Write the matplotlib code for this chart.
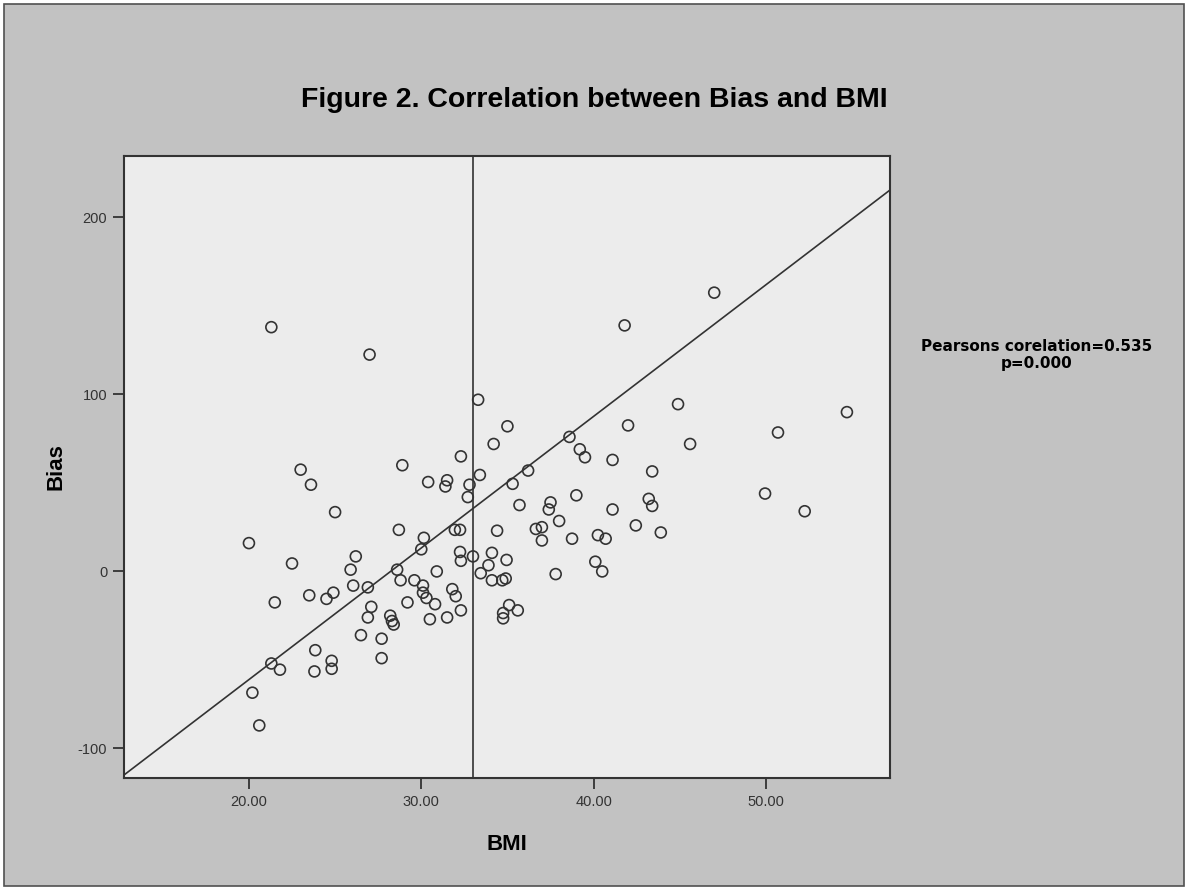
import matplotlib
matplotlib.use('Agg')
import matplotlib.pyplot as plt
from matplotlib.patches import Rectangle
import numpy as np

plt.rcParams['axes.unicode_minus'] = False

# values
bmi = [21.3, 27.0, 33.3, 35.0, 34.2, 32.3, 28.9, 23.0, 47.0, 41.8,
       44.9, 54.7, 42.0, 50.7, 38.6, 45.6, 39.2, 39.5, 41.1, 36.2,
       43.4, 23.6, 25.0, 30.4, 31.5, 31.4, 33.4, 32.8, 32.7, 28.7,
       30.15, 30.0, 31.95, 32.25, 34.4, 20.0, 22.5, 26.2, 25.9, 26.05,
       26.9, 28.6, 28.8, 29.6, 30.1, 30.1, 30.3, 30.9, 31.8, 32.0,
       32.3, 30.8, 31.5, 30.5, 29.2, 32.25, 32.3, 33.0, 34.1, 33.9,
       34.95, 33.45, 34.1, 34.7, 34.9, 35.1, 34.75, 34.75, 23.5, 24.5,
       24.9, 21.5, 27.1, 26.9, 28.2, 28.3, 28.4, 26.5, 27.7, 27.7,
       23.85, 24.8, 24.8, 23.8, 21.3, 21.8, 20.2, 20.6, 35.3, 39.0,
       35.7, 37.5, 37.4, 38.0, 36.65, 37.0, 37.0, 38.75, 41.1, 43.2,
       43.4, 42.45, 43.9, 40.25, 40.7, 40.1, 40.5, 37.8, 49.95, 52.25,
       35.6]
bias = [138, 122.5, 97, 82, 72, 65, 60, 57.5, 157.5, 139,
        94.5, 90, 82.5, 78.5, 76, 72, 69, 64.5, 63, 57,
        56.5, 49, 33.5, 50.5, 51.5, 48, 54.5, 49, 42, 23.5,
        19, 12.5, 23.5, 23.5, 23, 16, 4.5, 8.5, 1, -8,
        -9, 1, -5, -5, -8, -12, -15, 0, -10, -14,
        -22, -18.5, -26, -27, -17.5, 11, 6, 8.5, 10.5, 3.5,
        6.5, -1, -5, -5, -4, -19, -23.5, -26.5, -13.5, -15.5,
        -12, -17.5, -20, -26, -25, -28, -30, -36, -38, -49,
        -44.5, -50.5, -55, -56.5, -52, -55.5, -68.5, -87, 49.5, 43,
        37.5, 39, 35, 28.5, 24, 25, 17.5, 18.5, 35, 41,
        37, 26, 22, 20.5, 18.5, 5.5, 0, -1.5, 44, 34,
        -22]

fit_slope = 7.435
fit_intercept = -209.8
bmi_mean = 33.0

x_ticks = [20, 30, 40, 50]
x_tick_labels = ['20.00', '30.00', '40.00', '50.00']
y_ticks = [-100, 0, 100, 200]

W, H = 1188, 890
fig = plt.figure(figsize=(W / 100, H / 100), dpi=100)
fig.patch.set_facecolor('white')
fig.patches.append(Rectangle((4 / W, 4 / H), 1 - 8 / W, 1 - 8 / H, transform=fig.transFigure,
                             facecolor='#c2c2c2', edgecolor='#505050', linewidth=1.2, zorder=-10))

ax = fig.add_axes([124 / W, 1 - 778 / H, (890 - 124) / W, (778 - 156) / H])
ax.set_facecolor('#ececec')
ax.set_xlim(12.75, 57.2)
ax.set_ylim(-116.7, 234.7)

ax.scatter(bmi, bias, s=62, facecolors='none', edgecolors='#333333', linewidths=1.2, zorder=3)

xs = np.array(ax.get_xlim())
ax.plot(xs, fit_slope * xs + fit_intercept, color='#333333', linewidth=1.2, zorder=2)
ax.axvline(bmi_mean, color='#333333', linewidth=1.2, zorder=2)

for s in ax.spines.values():
    s.set_color('#333333')
    s.set_linewidth(1.5)

ax.set_xticks(x_ticks)
ax.set_xticklabels(x_tick_labels)
ax.set_yticks(y_ticks)
ax.tick_params(axis='both', direction='out', length=8, width=1.3, color='#333333',
               labelsize=10.5, labelcolor='#333333', pad=4)
for lab in ax.get_xticklabels() + ax.get_yticklabels():
    lab.set_family(['Liberation Sans', 'DejaVu Sans'])

ax.set_xlabel('BMI', fontsize=16, fontweight='bold', family=['Liberation Sans', 'DejaVu Sans'], labelpad=18)
ax.set_ylabel('Bias', fontsize=16, fontweight='bold', family=['Liberation Sans', 'DejaVu Sans'], labelpad=8)

fig.text(594 / W, 1 - 100 / H, 'Figure 2. Correlation between Bias and BMI', ha='center', va='center',
         fontsize=20.5, fontweight='bold', family=['Liberation Sans Narrow', 'Liberation Sans', 'DejaVu Sans'])
fig.text(1037 / W, 1 - 355 / H, 'Pearsons corelation=0.535\np=0.000', ha='center', va='center',
         fontsize=11, fontweight='bold', family=['DejaVu Sans'], linespacing=1.1)

fig.savefig('out.png', dpi=100, facecolor=fig.get_facecolor())
